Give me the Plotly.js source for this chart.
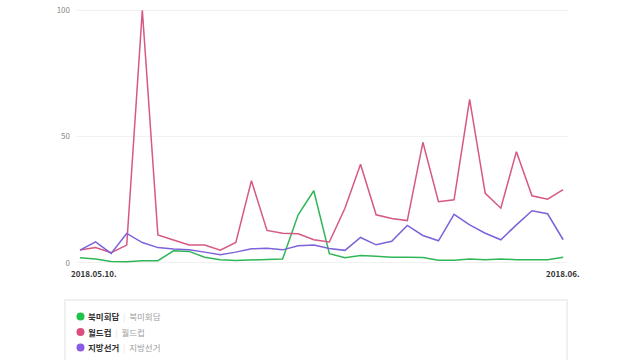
<!DOCTYPE html>
<html>
<head>
<meta charset="utf-8">
<script src="https://cdn.plot.ly/plotly-3.0.1.min.js"></script>
<style>html,body{margin:0;padding:0;background:#fff;}#chart{width:640px;height:360px;}</style>
</head>
<body>
<div id="chart"></div>
<script>
const dates = ["2018-05-10","2018-05-11","2018-05-12","2018-05-13","2018-05-14","2018-05-15","2018-05-16","2018-05-17",
  "2018-05-18","2018-05-19","2018-05-20","2018-05-21","2018-05-22","2018-05-23","2018-05-24","2018-05-25",
  "2018-05-26","2018-05-27","2018-05-28","2018-05-29","2018-05-30","2018-05-31","2018-06-01","2018-06-02",
  "2018-06-03","2018-06-04","2018-06-05","2018-06-06","2018-06-07","2018-06-08","2018-06-09","2018-06-10"];

const seriesNames = ["북미회담", "월드컵", "지방선거"];
const summit = [2, 1.5, 0.5, 0.4, 0.8, 0.8, 4.7, 4.5, 2.2, 1.2, 0.9, 1.2, 1.3, 1.5, 19, 28.5,
  3.6, 2, 2.9, 2.6, 2.2, 2.2, 2.1, 1, 1, 1.5, 1.2, 1.5, 1.2, 1.2, 1.2, 2.2];
const worldcup = [5, 6, 4, 7, 100, 11, 9, 7, 7, 5, 8, 32.5, 12.8, 11.7, 11.5, 9.1,
  8.2, 21.6, 39, 19, 17.5, 16.7, 47.7, 24.2, 24.9, 64.7, 27.5, 21.6, 44, 26.5, 25.2, 29];
const election = [5, 8.3, 3.7, 11.6, 8, 6, 5.4, 5.1, 4.2, 3.2, 4.2, 5.5, 5.7, 5.1, 6.7, 7,
  5.6, 4.9, 10, 7.1, 8.5, 14.8, 10.8, 8.7, 19.2, 15, 11.7, 9.1, 15, 20.6, 19.4, 9.1];

const yTicks = [0, 50, 100];
const xLabels = ["2018.05.10.", "2018.06."];

const lineColors = ["#2fb757", "#d65883", "#7d62da"];
const dotColors = ["#1fc24b", "#dc4f7d", "#8a5be6"];
const values = [summit, worldcup, election];

const font = "'Noto Sans CJK KR', 'Noto Sans', sans-serif";
const traces = values.map((v, i) => ({
  x: dates, y: v, type: "scatter", mode: "lines", name: seriesNames[i],
  line: {color: lineColors[i], width: 1.5}, showlegend: false, hoverinfo: "skip"
}));

// plot area in pixels: x 77..568, y 8.7..264.3
const PW = 491, PH = 255.6, PB = 264.3, PL = 77;
const px = p => (p - PL) / PW;
const py = p => (PB - p) / PH;

const legendRows = [317, 332.5, 348];
const annotations = [
  {xref: "x", yref: "paper", x: dates[0], y: -0.008, xanchor: "left", yanchor: "top", xshift: -11,
   text: "<b>" + xLabels[0] + "</b>", showarrow: false, font: {family: font, size: 8, color: "#333"}},
  {xref: "x", yref: "paper", x: dates[dates.length - 1], y: -0.008, xanchor: "center", yanchor: "top",
   text: "<b>" + xLabels[1] + "</b>", showarrow: false, font: {family: font, size: 8, color: "#333"}}
];
const shapes = [
  {type: "rect", xref: "paper", yref: "paper", x0: px(65), x1: px(567), y0: py(362), y1: py(300.5),
   line: {color: "#ececec", width: 1.5}, fillcolor: "rgba(0,0,0,0)", layer: "below"}
];
seriesNames.forEach((n, i) => {
  const yy = py(legendRows[i]);
  shapes.push({type: "circle", xref: "paper", yref: "paper", xsizemode: "pixel", ysizemode: "pixel",
    xanchor: px(80.5), yanchor: yy, x0: -4, x1: 4, y0: -4, y1: 4,
    fillcolor: dotColors[i], line: {width: 0}});
  annotations.push({xref: "paper", yref: "paper", x: px(86), y: yy, xanchor: "left", yanchor: "middle",
    showarrow: false, font: {family: font, size: 8.5, color: "#333"},
    text: "<b>" + n + "</b>  <span style='color:#e0e0e0'>|</span>  <span style='color:#a0a0a0'>" + n + "</span>"});
});

const layout = {
  width: 640, height: 360,
  margin: {l: 77, r: 72, t: 8.7, b: 95.7, autoexpand: false},
  paper_bgcolor: "#fff", plot_bgcolor: "#fff",
  font: {family: font, size: 8, color: "#777"},
  showlegend: false,
  xaxis: {type: "date", range: ["2018-05-09 19:26", "2018-06-10 07:26"],
    showgrid: false, zeroline: false, showline: false, showticklabels: false, ticks: ""},
  yaxis: {range: [-0.5, 100.5], tickvals: yTicks, ticktext: yTicks.map(String),
    showgrid: true, gridcolor: "#f1f1f1", gridwidth: 1, zeroline: false, showline: false,
    ticks: "", ticklabelstandoff: 6, tickfont: {size: 8, color: "#888"}},
  annotations: annotations,
  shapes: shapes
};

Plotly.newPlot("chart", traces, layout, {displayModeBar: false, staticPlot: true});
</script>
</body>
</html>
